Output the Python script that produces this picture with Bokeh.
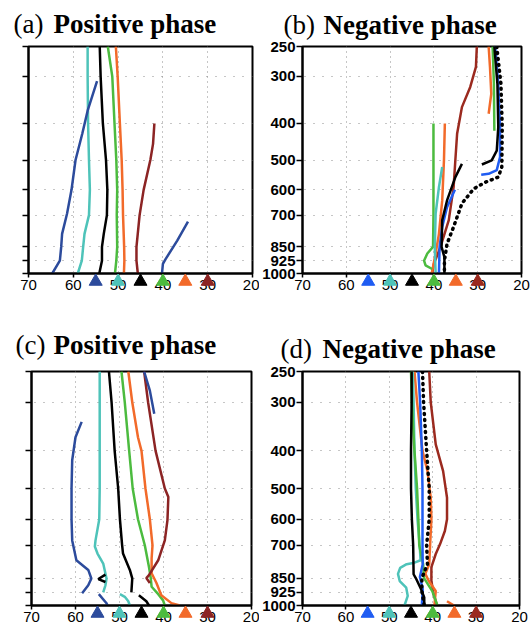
import math
from bokeh.plotting import figure
from bokeh.layouts import column, row
from bokeh.models import Range1d, FixedTicker, PrintfTickFormatter
from bokeh.core.properties import value
from bokeh.embed import file_html
from bokeh.resources import INLINE

# ---------------- axes / ticks ----------------
P_TICKS = [250, 300, 400, 500, 600, 700, 850, 925, 1000]
LAT_TICKS = [70, 60, 50, 40, 30, 20]
TRI_LATS = [55, 50, 45, 40, 35, 30]

# ---------------- colours ----------------
NAVY = "#2c4b9c"
BLUE = "#1f5cf2"
TEAL = "#4ec3b9"
GREEN = "#4cbb3f"
ORANGE = "#f26a2a"
DRED = "#8c2424"
DRED2 = "#9b2a1f"
BLACK = "#000000"

# ---------------- panel (a) ----------------
A_TEAL_P = [250, 300, 400, 500, 600, 700, 785, 850, 925, 1000]
A_TEAL_LAT = [56.8, 56.8, 56.7, 56.5, 56.3, 56.5, 57.5, 57.8, 58.1, 59.0]
A_BLACK_P = [250, 300, 400, 500, 600, 700, 785, 850, 925, 1000]
A_BLACK_LAT = [54.1, 53.9, 53.4, 52.7, 52.4, 52.5, 53.2, 53.6, 53.6, 54.2]
A_GREEN_P = [250, 300, 400, 500, 600, 700, 850, 925, 1000]
A_GREEN_LAT = [52.3, 51.3, 50.8, 50.4, 50.2, 50.3, 50.2, 50.4, 50.7]
A_ORANGE_P = [250, 300, 400, 500, 600, 700, 850, 925, 1000]
A_ORANGE_LAT = [50.5, 50.1, 49.6, 49.2, 49.0, 48.9, 48.65, 48.6, 48.7]
A_DRED_P = [400, 453, 500, 600, 700, 850, 925, 1000]
A_DRED_LAT = [41.9, 42.2, 42.8, 44.3, 45.2, 45.9, 45.9, 45.6]
A_BLUE1_P = [309, 370, 426, 500, 600, 694, 785, 850, 925, 1000]
A_BLUE1_LAT = [54.7, 56.8, 58.0, 59.5, 60.4, 61.4, 62.5, 62.7, 63.0, 64.7]
A_BLUE2_P = [728, 818, 916, 943, 1000]
A_BLUE2_LAT = [34.4, 36.8, 39.4, 40.0, 40.2]

# ---------------- panel (b) ----------------
B_DRED_P = [250, 283, 320, 362, 426, 500, 590, 722, 850, 943, 1000]
B_DRED_LAT = [30.2, 30.4, 31.7, 33.6, 34.7, 35.1, 35.5, 36.6, 38.5, 40.0, 40.4]
B_ORANGE1_P = [250, 283, 334, 377]
B_ORANGE1_LAT = [27.5, 27.2, 26.9, 27.5]
B_ORANGE2_P = [400, 500, 640, 785, 885, 1000]
B_ORANGE2_LAT = [37.5, 37.7, 38.1, 38.85, 39.6, 40.5]
B_GREEN1_P = [250, 314, 418]
B_GREEN1_LAT = [26.6, 26.3, 26.2]
B_GREEN2_P = [400, 500, 600, 700, 850, 885, 925, 952, 973]
B_GREEN2_LAT = [40.1, 40.1, 40.1, 40.1, 40.2, 41.5, 42.25, 41.9, 40.4]
B_TEAL_P = [522, 590, 694, 850, 1000]
B_TEAL_LAT = [38.1, 38.85, 39.6, 39.8, 39.6]
B_BLUE1_P = [250, 314, 409, 491, 532, 544, 547]
B_BLUE1_LAT = [26.0, 25.3, 24.9, 24.9, 25.65, 27.5, 29.2]
B_BLUE2_P = [600, 667, 752, 850, 1000]
B_BLUE2_LAT = [35.2, 37.0, 38.1, 38.7, 38.85]
B_BLACK1_P = [250, 314, 409, 472, 501, 514]
B_BLACK1_LAT = [26.2, 25.5, 25.3, 25.65, 26.8, 29.05]
B_BLACK2_P = [512, 555, 640, 722, 850, 905, 1000]
B_BLACK2_LAT = [33.6, 35.1, 37.0, 38.1, 38.25, 37.6, 37.6]
B_DOT_P = [250, 314, 409, 522, 555, 573, 596, 652, 752, 834, 925, 1000]
B_DOT_LAT = [25.65, 24.7, 24.4, 24.5, 25.3, 28.3, 30.9, 33.6, 35.5, 37.0, 37.6, 37.6]

# ---------------- panel (c) ----------------
C_TEAL1_P = [250, 300, 400, 500, 600, 680, 705, 735, 780, 852, 887, 925]
C_TEAL1_LAT = [54.5, 54.5, 54.5, 54.5, 54.6, 55.45, 55.6, 55.0, 53.7, 52.95, 53.2, 53.7]
C_TEAL2_P = [935, 950, 975, 1000]
C_TEAL2_LAT = [49.9, 48.8, 48.0, 47.65]
C_BLACK1_P = [250, 300, 400, 500, 600, 700, 735, 810, 852, 925]
C_BLACK1_LAT = [52.4, 51.8, 51.1, 50.3, 49.9, 49.4, 49.2, 47.65, 47.1, 47.3]
C_BLACK2_P = [941, 975, 1000]
C_BLACK2_LAT = [45.6, 43.9, 43.3]
C_BLACK3_P = [833, 855, 870]
C_BLACK3_LAT = [53.2, 54.8, 53.2]
C_GREEN_P = [250, 300, 400, 500, 600, 700, 796, 850, 895, 935, 970, 1000]
C_GREEN_LAT = [49.55, 48.8, 47.8, 47.0, 45.8, 44.25, 43.3, 42.9, 42.7, 41.2, 40.1, 39.7]
C_ORANGE_P = [250, 300, 369, 400, 500, 600, 700, 757, 826, 875, 941, 986, 1000]
C_ORANGE_LAT = [48.0, 47.1, 45.8, 45.0, 44.1, 43.1, 42.5, 42.7, 42.7, 41.6, 40.5, 38.2, 36.3]
C_DRED_P = [250, 300, 400, 500, 526, 603, 680, 765, 835, 850, 875]
C_DRED_LAT = [44.4, 43.5, 41.8, 39.7, 38.9, 39.1, 39.7, 41.2, 43.3, 43.9, 43.1]
C_BLUE1_P = [250, 280, 321]
C_BLUE1_LAT = [44.4, 43.1, 42.1]
C_BLUE2_P = [337, 369, 423, 500, 600, 680, 765, 810, 852, 887, 930]
C_BLUE2_LAT = [58.6, 60.0, 60.75, 60.9, 60.9, 60.75, 59.8, 57.1, 56.4, 57.1, 58.5]
C_BLUE3_P = [935, 985, 1000]
C_BLUE3_LAT = [54.7, 53.0, 52.7]

# ---------------- panel (d) ----------------
D_BLACK_P = [250, 300, 400, 500, 600, 700, 831, 850, 907, 953, 1000]
D_BLACK_LAT = [44.85, 44.85, 45.0, 45.0, 44.8, 44.5, 44.4, 43.9, 42.7, 41.95, 41.95]
D_GREEN_P = [250, 300, 400, 500, 600, 700, 783, 850, 918, 1000]
D_GREEN_LAT = [45.0, 44.8, 44.2, 43.6, 43.3, 43.1, 42.2, 42.0, 40.1, 38.9]
D_TEAL_P = [250, 300, 400, 500, 600, 700, 765, 776, 783, 800, 829, 865, 900, 945, 1000]
D_TEAL_LAT = [44.6, 44.4, 44.2, 43.9, 43.5, 43.0, 42.8, 44.2, 46.0, 47.5, 48.0, 47.6, 46.1, 45.75, 46.5]
D_BLUE_P = [250, 300, 400, 500, 600, 700, 783, 845, 907, 1000]
D_BLUE_LAT = [43.3, 42.9, 42.5, 42.35, 42.35, 42.35, 42.3, 42.95, 42.3, 42.5]
D_DOT_P = [250, 300, 400, 500, 600, 700, 783, 850, 918, 1000]
D_DOT_LAT = [42.35, 42.1, 41.4, 40.8, 40.8, 41.4, 41.2, 42.5, 42.5, 41.95]
D_ORANGE1_P = [250, 300, 400, 451, 528, 600, 700, 783, 829, 865, 918, 1000]
D_ORANGE1_LAT = [44.2, 43.6, 42.35, 41.2, 40.45, 40.3, 40.6, 40.8, 41.7, 40.9, 39.3, 39.6]
D_ORANGE2_P = [975, 1000]
D_ORANGE2_LAT = [36.7, 35.1]
D_DRED_P = [250, 300, 385, 451, 528, 600, 643, 695, 737, 797, 865, 935, 1000]
D_DRED_LAT = [40.8, 40.45, 39.3, 37.6, 36.7, 36.7, 37.2, 38.3, 39.3, 40.3, 40.3, 39.8, 39.0]

TRI_COLORS_AC = [NAVY, TEAL, BLACK, GREEN, ORANGE, DRED]
TRI_COLORS_BD = [BLUE, TEAL, BLACK, GREEN, ORANGE, DRED2]


def add_title(p, letter, phase, letter_dx, phase_dx, title_dy):
    p.text(x=[70], y=[250], text=[letter], x_offset=letter_dx, y_offset=-title_dy,
           text_font=value("Liberation Serif"), text_font_size="27px",
           text_baseline="alphabetic", text_align="left", text_color="black",
           level="overlay")
    p.text(x=[70], y=[250], text=[phase], x_offset=phase_dx, y_offset=-title_dy,
           text_font=value("Liberation Serif"), text_font_size="27px",
           text_font_style="bold",
           text_baseline="alphabetic", text_align="left", text_color="black",
           level="overlay")


def make_panel(width, height, bl, br, bt, bb, show_ylabels, tri_colors):
    p = figure(width=width, height=height,
               x_range=Range1d(70, 20), y_range=Range1d(1000, 250),
               y_axis_type="log", output_backend="svg", toolbar_location=None,
               min_border_left=bl, min_border_right=br,
               min_border_top=bt, min_border_bottom=bb)
    p.background_fill_color = "white"
    p.border_fill_color = "white"
    p.outline_line_color = "black"
    p.outline_line_width = 2

    p.xaxis.ticker = FixedTicker(ticks=LAT_TICKS)
    p.yaxis.ticker = FixedTicker(ticks=P_TICKS)
    p.xaxis.formatter = PrintfTickFormatter(format="%d")
    p.yaxis.formatter = PrintfTickFormatter(format="%d")
    for ax in (p.xaxis, p.yaxis):
        ax.axis_line_width = 2
        ax.axis_line_color = "black"
        ax.major_tick_line_color = "black"
        ax.major_tick_line_width = 1.5
        ax.major_tick_in = 0
        ax.minor_tick_line_color = None
        ax.major_label_standoff = 2
        ax.major_label_text_font = "Liberation Sans"
        ax.major_label_text_font_size = "15px"
        ax.major_label_text_color = "black"
    p.xaxis.major_tick_out = 4
    p.yaxis.major_tick_out = 6
    p.yaxis.major_label_standoff = 1
    p.yaxis.major_label_text_font_style = "bold"
    if not show_ylabels:
        p.yaxis.major_label_overrides = {t: "" for t in P_TICKS}

    p.xgrid.ticker = FixedTicker(ticks=[60, 50, 40, 30])
    p.ygrid.ticker = FixedTicker(ticks=[300, 400, 500, 600, 700, 850, 925])
    p.xgrid.grid_line_color = "#8c8c8c"
    p.ygrid.grid_line_color = "#8c8c8c"
    p.xgrid.grid_line_dash = "1 4"
    p.ygrid.grid_line_dash = "1 8"
    p.xgrid.grid_line_width = 1
    p.ygrid.grid_line_width = 1

    frame_h = height - bt - bb
    y_tri = 1000 * 4 ** (8.0 / frame_h)
    p.scatter(x=TRI_LATS, y=[y_tri] * len(TRI_LATS), marker="triangle",
              size=13, fill_color=tri_colors, line_color=tri_colors,
              level="overlay")
    return p


LW = 2.5

# top row
fa = make_panel(259, 310, 28, 7, 46, 37, False, TRI_COLORS_AC)
add_title(fa, "(a)", "Positive phase", -15, 25, 23)
for lat, pr, c in [(A_TEAL_LAT, A_TEAL_P, TEAL), (A_BLACK_LAT, A_BLACK_P, BLACK),
                   (A_GREEN_LAT, A_GREEN_P, GREEN), (A_ORANGE_LAT, A_ORANGE_P, ORANGE),
                   (A_DRED_LAT, A_DRED_P, DRED), (A_BLUE1_LAT, A_BLUE1_P, NAVY),
                   (A_BLUE2_LAT, A_BLUE2_P, NAVY)]:
    fa.line(lat, pr, line_color=c, line_width=LW)

fb = make_panel(272, 310, 42, 10, 46, 37, True, TRI_COLORS_BD)
add_title(fb, "(b)", "Negative phase", -19, 21, 22)
for lat, pr, c in [(B_DRED_LAT, B_DRED_P, DRED2),
                   (B_ORANGE1_LAT, B_ORANGE1_P, ORANGE), (B_ORANGE2_LAT, B_ORANGE2_P, ORANGE),
                   (B_GREEN1_LAT, B_GREEN1_P, GREEN), (B_GREEN2_LAT, B_GREEN2_P, GREEN),
                   (B_TEAL_LAT, B_TEAL_P, TEAL),
                   (B_BLUE1_LAT, B_BLUE1_P, BLUE), (B_BLUE2_LAT, B_BLUE2_P, BLUE),
                   (B_BLACK1_LAT, B_BLACK1_P, BLACK), (B_BLACK2_LAT, B_BLACK2_P, BLACK)]:
    fb.line(lat, pr, line_color=c, line_width=LW)
fb.line(B_DOT_LAT, B_DOT_P, line_color=BLACK, line_width=3.5, line_dash="1 5",
        line_cap="round")

# bottom row
fc = make_panel(259, 317, 31, 8, 61, 22, False, TRI_COLORS_AC)
add_title(fc, "(c)", "Positive phase", -16, 22, 27)
for lat, pr, c in [(C_TEAL1_LAT, C_TEAL1_P, TEAL), (C_TEAL2_LAT, C_TEAL2_P, TEAL),
                   (C_BLACK1_LAT, C_BLACK1_P, BLACK), (C_BLACK2_LAT, C_BLACK2_P, BLACK),
                   (C_BLACK3_LAT, C_BLACK3_P, BLACK),
                   (C_GREEN_LAT, C_GREEN_P, GREEN), (C_ORANGE_LAT, C_ORANGE_P, ORANGE),
                   (C_DRED_LAT, C_DRED_P, DRED),
                   (C_BLUE1_LAT, C_BLUE1_P, NAVY), (C_BLUE2_LAT, C_BLUE2_P, NAVY),
                   (C_BLUE3_LAT, C_BLUE3_P, NAVY)]:
    fc.line(lat, pr, line_color=c, line_width=LW)

fd = make_panel(272, 317, 41, 12, 61, 22, True, TRI_COLORS_BD)
add_title(fd, "(d)", "Negative phase", -22, 20, 23)
for lat, pr, c in [(D_DRED_LAT, D_DRED_P, DRED2),
                   (D_ORANGE1_LAT, D_ORANGE1_P, ORANGE), (D_ORANGE2_LAT, D_ORANGE2_P, ORANGE),
                   (D_TEAL_LAT, D_TEAL_P, TEAL), (D_GREEN_LAT, D_GREEN_P, GREEN),
                   (D_BLUE_LAT, D_BLUE_P, BLUE), (D_BLACK_LAT, D_BLACK_P, BLACK)]:
    fd.line(lat, pr, line_color=c, line_width=LW)
fd.line(D_DOT_LAT, D_DOT_P, line_color=BLACK, line_width=3.5, line_dash="1 5",
        line_cap="round")

layout = column(row(fa, fb), row(fc, fd))
open("out.html", "w").write(file_html(layout, INLINE))
